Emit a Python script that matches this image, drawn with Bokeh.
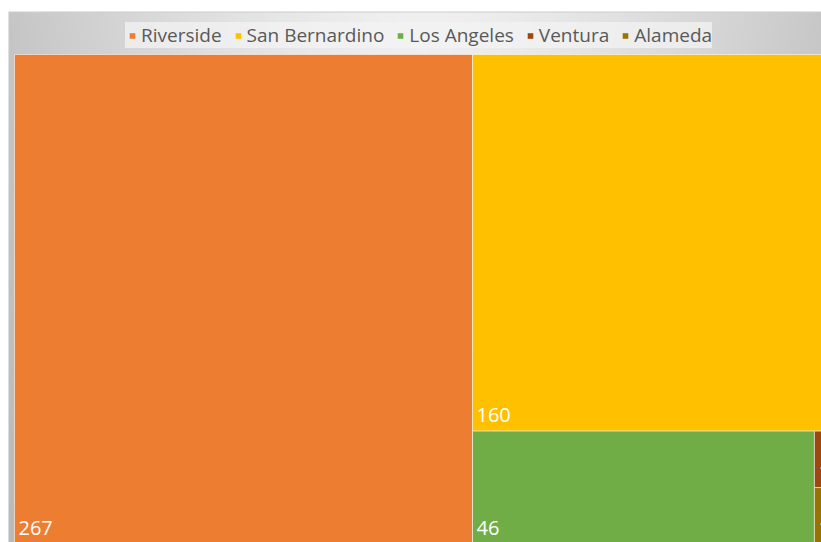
import numpy as np
from bokeh.plotting import figure
from bokeh.models import Range1d, Legend, LegendItem, ColumnDataSource
from bokeh.embed import file_html
from bokeh.resources import INLINE
from bokeh.core.properties import value

# ---- data ----
categories = ["Riverside", "San Bernardino", "Los Angeles", "Ventura", "Alameda"]
values = [267, 160, 46, 1, 1]
colors = ["#ED7D31", "#FFC000", "#70AD47", "#9E480E", "#997300"]

# ---- layout constants (page pixels, top-down) ----
FIG_W, FIG_H = 821, 542
BG_X, BG_TOP, BG_W = 8, 11, 827
TM_X, TM_TOP, TM_W, TM_H = 14, 54, 814.8, 489.6


def squarify(vals, x, y, w, h):
    total = float(sum(vals))
    scale = w * h / total
    areas = [v * scale for v in vals]

    def worst(row, side):
        s = sum(row)
        return max(max(side * side * r / (s * s), s * s / (side * side * r)) for r in row)

    rects = []
    i = 0
    while i < len(areas):
        side = min(w, h)
        row = [areas[i]]
        j = i + 1
        while j < len(areas) and worst(row + [areas[j]], side) <= worst(row, side):
            row.append(areas[j])
            j += 1
        s = sum(row)
        if w >= h:
            cw = s / h
            yy = y
            for a in row:
                rh = a / cw
                rects.append((x, yy, cw, rh))
                yy += rh
            x += cw
            w -= cw
        else:
            rh = s / w
            xx = x
            for a in row:
                cw = a / rh
                rects.append((xx, y, cw, rh))
                xx += cw
            y += rh
            h -= rh
        i = j
    return rects


rects = squarify(values, TM_X, TM_TOP, TM_W, TM_H)

p = figure(width=FIG_W, height=FIG_H, x_range=Range1d(0, FIG_W), y_range=Range1d(0, FIG_H),
           output_backend="svg", toolbar_location=None, min_border=0)
p.axis.visible = False
p.grid.visible = False
p.outline_line_color = None
p.background_fill_color = "white"
p.border_fill_color = "white"

# ---- gradient background ----
GH = FIG_H - BG_TOP
nx, ny = BG_W, GH
xs = np.linspace(-1, 1, nx)
ys = np.linspace(0, 1, ny)  # 0 bottom, 1 top
XX, YY = np.meshgrid(xs, ys)
g = 240 - 42 * np.abs(XX) ** 1.4 - 12 * (1 - YY)
g = np.clip(g, 0, 255).astype(np.uint8)
g[-1, :] = 205
img = np.empty((ny, nx), dtype=np.uint32)
view = img.view(dtype=np.uint8).reshape((ny, nx, 4))
view[:, :, 0] = g
view[:, :, 1] = g
view[:, :, 2] = g
view[:, :, 3] = 255
p.image_rgba(image=[img], x=BG_X, y=0, dw=BG_W, dh=GH)

# ---- treemap tiles ----
items = []
lx, ly, lt = [], [], []
for cat, val, col, (rx, rt, rw, rh) in zip(categories, values, colors, rects):
    left, right = rx, rx + rw
    top, bottom = FIG_H - rt, FIG_H - (rt + rh)
    p.quad(left=[left], right=[right], top=[top], bottom=[bottom],
           fill_color=col, line_color="white", line_alpha=0.55, line_width=1)
    proxy = p.scatter(x=[np.nan], y=[np.nan], marker="square", size=6,
                      fill_color=col, line_color=None)
    items.append(LegendItem(label=cat, renderers=[proxy]))
    lx.append(left + 4)
    ly.append(bottom + 9)
    lt.append(str(val))

src = ColumnDataSource(dict(x=lx, y=ly, text=lt))
p.text(x="x", y="y", text="text", source=src, text_font=value("Open Sans"),
       text_font_size="20px", text_color="white", text_baseline="bottom", text_align="left")

LEG_LEFT, LEG_BOTTOM = 125, 48
legend = Legend(items=items, location=(LEG_LEFT, FIG_H - LEG_BOTTOM), orientation="horizontal",
                label_text_font="Open Sans", label_text_font_size="19px",
                label_text_color="#595959", glyph_width=14, glyph_height=21, label_height=21,
                label_standoff=2, spacing=9, padding=5, margin=0,
                background_fill_color="#f3f3f3", background_fill_alpha=0.75,
                border_line_color=None)
p.add_layout(legend)

open("out.html", "w").write(file_html(p, INLINE))
